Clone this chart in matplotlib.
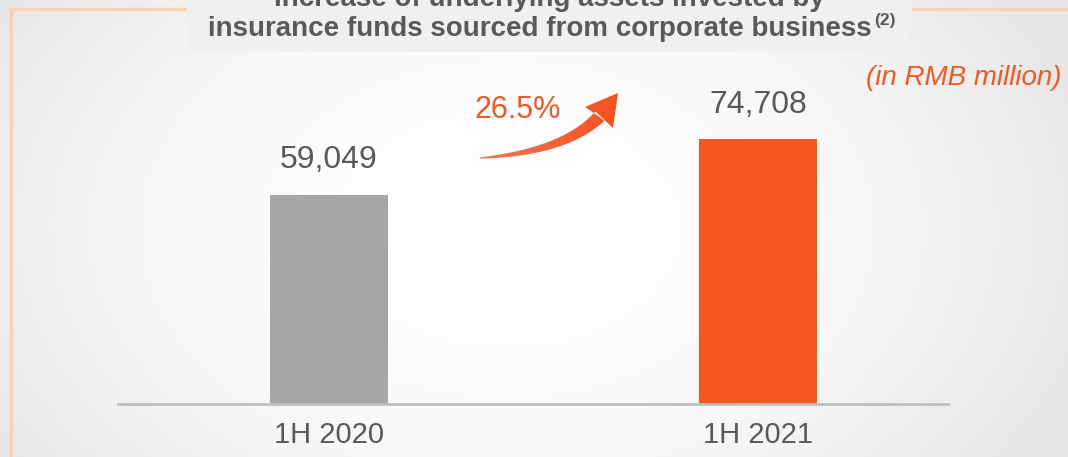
import numpy as np
import matplotlib.pyplot as plt
from matplotlib.patches import PathPatch
from matplotlib.path import Path

plt.rcParams['font.family'] = ['Liberation Sans', 'DejaVu Sans']

categories = ['1H 2020', '1H 2021']
values = [59049, 74708]
bar_colors = ['#A6A6A6', '#F7561E']
growth_label = '26.5%'
unit_label = '(in RMB million)'
title_lines = ['Increase of underlying assets invested by',
               'insurance funds sourced from corporate business']
title_note = '(2)'

W, H = 1068, 457
fig = plt.figure(figsize=(W / 100, H / 100), dpi=100)

# background layer in pixel coordinates (y grows downward)
bg = fig.add_axes([0, 0, 1, 1])
bg.set_xlim(0, W)
bg.set_ylim(H, 0)
bg.axis('off')

xx, yy = np.meshgrid(np.linspace(-1, 1, 400), np.linspace(-1, 1, 200))
shade = 1 - 0.075 * np.clip(((xx + 0.05) / 1.0) ** 2 + (yy / 1.6) ** 2, 0, 1.3)
bg.imshow(np.dstack([shade] * 3), extent=(0, W, H, 0), aspect='auto', zorder=0)

# peach frame lines
frame_col = '#FFD0B2'
bg.plot([11, 11], [9, H], color=frame_col, lw=2.5, zorder=1)
bg.plot([11, 190], [9, 9], color=frame_col, lw=2.5, zorder=1)
bg.plot([905, W], [9, 9], color=frame_col, lw=2.5, zorder=1)

# title tab, square on the left, rounded bottom-right corner
tab_col = '#F0F0F0'
r = 32
tab = Path([(187, -5), (187, 52), (912 - r, 52), (912, 52), (912, 52 - r), (912, -5), (187, -5)],
           [Path.MOVETO, Path.LINETO, Path.LINETO, Path.CURVE3, Path.CURVE3, Path.LINETO,
            Path.CLOSEPOLY])
bg.add_patch(PathPatch(tab, fc=tab_col, ec='none', zorder=2))
bg.text(549, 6, title_lines[0], ha='center', va='baseline', fontsize=20,
        fontweight='bold', color='#595959', zorder=3)
t2 = bg.text(540, 36, title_lines[1], ha='center', va='baseline', fontsize=20,
             fontweight='bold', color='#595959', zorder=3)
fig.canvas.draw()
ext = t2.get_window_extent().transformed(bg.transData.inverted())
bg.text(ext.x1 + 2, 25, title_note, ha='left', va='baseline', fontsize=12.5,
        fontweight='bold', color='#595959', zorder=3)

bg.text(1062, 78, unit_label, ha='right', va='center', fontsize=20,
        style='italic', color='#F05A22', zorder=3)

# curved growth arrow with gradient fill
def bez(p0, p1, p2, t):
    t = t[:, None]
    return (1 - t) ** 2 * p0 + 2 * (1 - t) * t * p1 + t ** 2 * p2

p0, p1, p2 = np.array([480., 158.]), np.array([565., 152.]), np.array([600., 116.])
ts = np.linspace(0, 1, 60)
c = bez(p0, p1, p2, ts)
d = np.gradient(c, axis=0)
n = np.stack([-d[:, 1], d[:, 0]], axis=1)
n /= np.linalg.norm(n, axis=1)[:, None]
half = 0.5 + 6 * ts ** 0.8
upper = c + n * half[:, None]
lower = c - n * half[:, None]
head = np.array([[613, 128], [618, 93], [585, 107]])
pts = np.vstack([lower, head, upper[::-1]])
arrow_path = Path(np.vstack([pts, pts[:1]]), closed=True)
arrow_patch = PathPatch(arrow_path, fc='none', ec='none', zorder=3)
bg.add_patch(arrow_patch)
gx = np.linspace(0, 1, 100)
grad = np.zeros((2, 100, 3))
grad[..., 0] = 0.94 + 0.02 * gx
grad[..., 1] = 0.47 - 0.15 * gx
grad[..., 2] = 0.34 - 0.22 * gx
im = bg.imshow(grad, extent=(478, 620, 160, 92), aspect='auto', zorder=3)
im.set_clip_path(arrow_patch)

bg.text(518, 110, growth_label, ha='center', va='center', fontsize=22,
        color='#F05A22', zorder=3)

# bar chart
ax_l, ax_r, ax_b, ax_t = 118, 948, 404, 60
ax = fig.add_axes([ax_l / W, (H - ax_b) / H, (ax_r - ax_l) / W, (ax_b - ax_t) / H])
ax.patch.set_alpha(0)
x = np.arange(len(categories))
unit = 429
ax.set_xlim(-211 / unit, -211 / unit + (ax_r - ax_l) / unit)
ax.set_ylim(0, values[1] * (ax_b - ax_t) / 265)
ax.bar(x, values, width=118 / unit, color=bar_colors, zorder=2)
for xi, v in zip(x, values):
    ax.annotate(f'{v:,}', (xi, v), xytext=(0, 14), textcoords='offset points',
                ha='center', va='bottom', fontsize=23, color='#595959')
for s in ['top', 'right', 'left']:
    ax.spines[s].set_visible(False)
ax.spines['bottom'].set_color('#BFBFBF')
ax.spines['bottom'].set_linewidth(2)
ax.set_yticks([])
ax.set_xticks(x)
ax.set_xticklabels(categories, fontsize=21, color='#595959')
ax.tick_params(axis='x', length=0, pad=12)

fig.savefig('out.png', dpi=100)
